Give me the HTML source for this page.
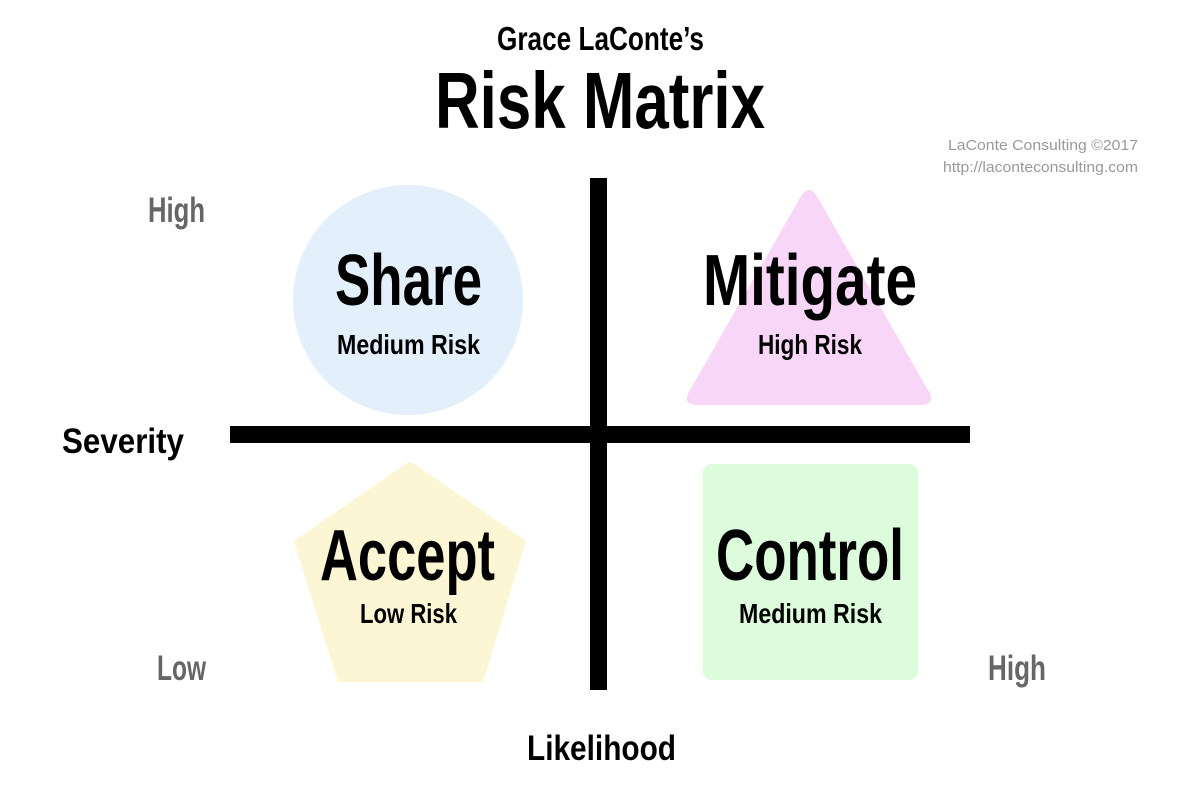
<!DOCTYPE html>
<html><head><meta charset="utf-8"><style>html,body{margin:0;padding:0;background:#fff}svg{display:block}</style></head>
<body>
<svg width="1200" height="800" viewBox="0 0 1200 800" xmlns="http://www.w3.org/2000/svg">
<rect width="1200" height="800" fill="#fff"/>
<circle cx="408" cy="300" r="115" fill="#e3f0fc"/>
<path d="M800,198 Q809,182 818,198 L928,390 Q937,405 920,405 L698,405 Q681,405 690,390 Z" fill="#f8d6f8"/>
<path d="M404,465 Q410,460 416,465 L526,541 L483,682 L338,682 L294,541 Z" fill="#fdf6d4"/>
<rect x="703" y="464" width="215" height="216" rx="9" fill="#dcfcdc"/>
<rect x="590" y="178" width="17" height="512" fill="#000"/>
<rect x="230" y="426" width="740" height="17" fill="#000"/>
<g font-family="'Liberation Sans Narrow','Liberation Sans',sans-serif" font-weight="bold" fill="#000" text-anchor="start">
<text x="497" y="50" font-size="33" textLength="207" lengthAdjust="spacingAndGlyphs">Grace LaConte’s</text>
<text x="435" y="128" font-size="80" textLength="330" lengthAdjust="spacingAndGlyphs">Risk Matrix</text>
<text x="335" y="305" font-size="72" textLength="147" lengthAdjust="spacingAndGlyphs">Share</text>
<text x="337" y="354" font-size="28" textLength="143" lengthAdjust="spacingAndGlyphs">Medium Risk</text>
<text x="703" y="305" font-size="72" textLength="214" lengthAdjust="spacingAndGlyphs">Mitigate</text>
<text x="758" y="354" font-size="28" textLength="104" lengthAdjust="spacingAndGlyphs">High Risk</text>
<text x="320" y="580" font-size="72" textLength="175" lengthAdjust="spacingAndGlyphs">Accept</text>
<text x="360" y="623" font-size="28" textLength="97" lengthAdjust="spacingAndGlyphs">Low Risk</text>
<text x="716" y="580" font-size="72" textLength="188" lengthAdjust="spacingAndGlyphs">Control</text>
<text x="739" y="623" font-size="28" textLength="143" lengthAdjust="spacingAndGlyphs">Medium Risk</text>
<text x="62" y="453" font-size="35" textLength="122" lengthAdjust="spacingAndGlyphs">Severity</text>
<text x="527" y="760" font-size="35" textLength="149" lengthAdjust="spacingAndGlyphs">Likelihood</text>
<g fill="#666">
<text x="148" y="222" font-size="35" textLength="57" lengthAdjust="spacingAndGlyphs">High</text>
<text x="157" y="680" font-size="35" textLength="49" lengthAdjust="spacingAndGlyphs">Low</text>
<text x="988" y="680" font-size="35" textLength="58" lengthAdjust="spacingAndGlyphs">High</text>
</g>
</g>
<g font-family="'Liberation Sans',sans-serif" fill="#999" font-size="15">
<text x="948" y="150" textLength="190" lengthAdjust="spacingAndGlyphs">LaConte Consulting ©2017</text>
<text x="943" y="172" textLength="195" lengthAdjust="spacingAndGlyphs">http://laconteconsulting.com</text>
</g>
</svg>
</body></html>
